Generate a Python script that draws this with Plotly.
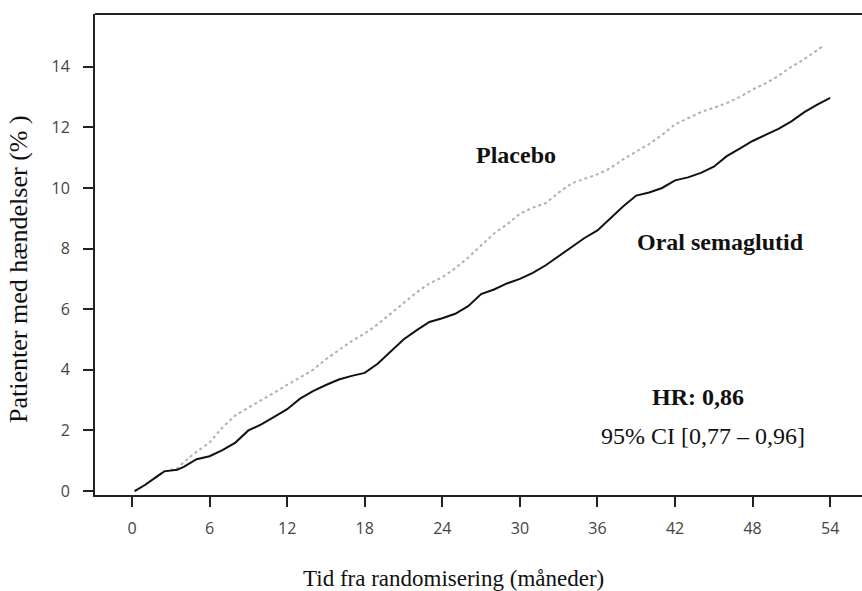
import plotly.graph_objects as go

# Data
sema_months = [0.2, 1, 2, 2.5, 3.5, 4, 5, 6, 7, 8, 9, 10, 11, 12, 13, 14, 15, 16, 17, 18,
               19, 20, 21, 22, 23, 24, 25, 26, 27, 28, 29, 30, 31, 32, 33, 34, 35, 36, 37,
               38, 39, 40, 41, 42, 43, 44, 45, 46, 47, 48, 49, 50, 51, 52, 53, 54]
sema_pct = [0.0, 0.2, 0.5, 0.65, 0.7, 0.8, 1.05, 1.15, 1.35, 1.6, 2.0, 2.2, 2.45, 2.7, 3.05,
            3.3, 3.5, 3.68, 3.8, 3.9, 4.2, 4.6, 5.0, 5.3, 5.58, 5.7, 5.85, 6.1, 6.5, 6.65,
            6.85, 7.0, 7.2, 7.45, 7.75, 8.05, 8.35, 8.6, 9.0, 9.4, 9.75, 9.85, 10.0, 10.25,
            10.35, 10.5, 10.7, 11.05, 11.3, 11.55, 11.75, 11.95, 12.2, 12.5, 12.75, 12.97]

plac_months = [0.2, 1, 2, 2.5, 3.5, 4, 5, 6, 7, 8, 9, 10, 11, 12, 13, 14, 15, 16, 17, 18,
               19, 20, 21, 22, 23, 24, 25, 26, 27, 28, 29, 30, 31, 32, 33, 34, 35, 36, 37,
               38, 39, 40, 41, 42, 43, 44, 45, 46, 47, 48, 49, 50, 51, 52, 53, 53.5]
plac_pct = [0.0, 0.2, 0.5, 0.65, 0.75, 0.95, 1.3, 1.6, 2.1, 2.5, 2.75, 3.0, 3.25, 3.5, 3.75,
            4.0, 4.35, 4.65, 4.95, 5.2, 5.5, 5.85, 6.2, 6.55, 6.85, 7.05, 7.35, 7.7, 8.1, 8.5,
            8.8, 9.15, 9.35, 9.5, 9.85, 10.15, 10.3, 10.45, 10.65, 10.95, 11.2, 11.45, 11.75,
            12.1, 12.3, 12.5, 12.65, 12.8, 13.0, 13.25, 13.45, 13.7, 14.0, 14.25, 14.55, 14.7]

x_ticks = [0, 6, 12, 18, 24, 30, 36, 42, 48, 54]
y_ticks = [0, 2, 4, 6, 8, 10, 12, 14]

SERIF = "Liberation Serif, Times New Roman, serif"
SANS = "Open Sans, Noto Sans, sans-serif"

fig = go.Figure()
fig.add_trace(go.Scatter(x=plac_months, y=plac_pct, mode="lines", name="Placebo",
                         line=dict(color="#b0b0b0", width=2, dash="dot")))
fig.add_trace(go.Scatter(x=sema_months, y=sema_pct, mode="lines", name="Oral semaglutid",
                         line=dict(color="#111111", width=2)))

fig.update_layout(
    width=862, height=591,
    margin=dict(l=95, r=0, t=14, b=96),
    paper_bgcolor="white", plot_bgcolor="white",
    showlegend=False,
    xaxis=dict(range=[-2.86, 56.46], tickvals=x_ticks, ticktext=[str(v) for v in x_ticks],
               showgrid=False, zeroline=False, showline=True, linecolor="#222", linewidth=2,
               ticks="outside", ticklen=10, tickwidth=2, tickcolor="#222",
               ticklabelstandoff=8,
               tickfont=dict(family=SANS, size=16, color="#444")),
    yaxis=dict(range=[-0.13, 15.74], tickvals=y_ticks, ticktext=[str(v) for v in y_ticks],
               showgrid=False, zeroline=False, showline=True, linecolor="#222", linewidth=2,
               ticks="outside", ticklen=10, tickwidth=2, tickcolor="#222",
               ticklabelstandoff=10,
               tickfont=dict(family=SANS, size=16, color="#444")),
    shapes=[dict(type="line", xref="paper", yref="paper", x0=0, x1=1, y0=1, y1=1,
                 line=dict(color="#222", width=2))],
)

fig.add_annotation(text="Patienter med hændelser (% )", xref="paper", yref="paper",
                   x=0, y=0.47, xanchor="center", yanchor="middle", xshift=-76,
                   textangle=-90, showarrow=False,
                   font=dict(family=SERIF, size=26, color="#111"))
fig.add_annotation(text="Tid fra randomisering (måneder)", xref="paper", yref="paper",
                   x=0.467, y=0, xanchor="center", yanchor="middle", yshift=-83,
                   showarrow=False, font=dict(family=SERIF, size=23, color="#111"))

fig.add_annotation(text="<b>Placebo</b>", x=29.7, y=11.09, showarrow=False,
                   font=dict(family=SERIF, size=24, color="#111"))
fig.add_annotation(text="<b>Oral semaglutid</b>", x=45.5, y=8.22, showarrow=False,
                   font=dict(family=SERIF, size=24, color="#111"))
fig.add_annotation(text="<b>HR: 0,86</b>", x=43.8, y=3.1, showarrow=False,
                   font=dict(family=SERIF, size=24, color="#111"))
fig.add_annotation(text="95% CI [0,77 – 0,96]", x=44.2, y=1.82, showarrow=False,
                   font=dict(family=SERIF, size=24, color="#111"))

fig.write_html("out.html")
